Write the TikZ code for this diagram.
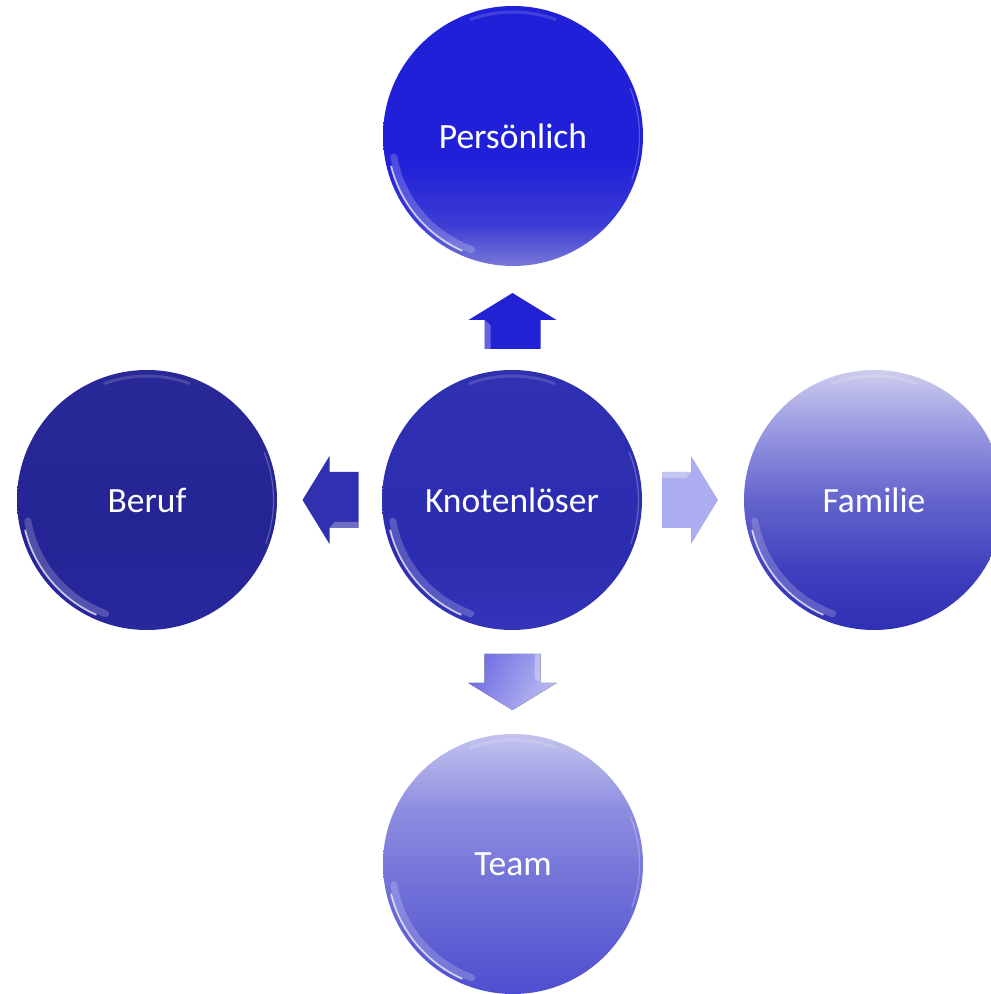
\documentclass[tikz,border=0pt]{standalone}
\usepackage{fontspec}
\setmainfont{Carlito}
\usetikzlibrary{calc}

% colours of the balls, bottom to top
\definecolor{pTopA}{RGB}{120,120,218}
\definecolor{pTopB}{RGB}{60,60,212}
\definecolor{pTopC}{RGB}{32,32,216}
\definecolor{kA}{RGB}{52,52,186}
\definecolor{kB}{RGB}{44,44,176}
\definecolor{kC}{RGB}{48,48,178}
\definecolor{bA}{RGB}{40,40,158}
\definecolor{bB}{RGB}{36,36,148}
\definecolor{bC}{RGB}{40,40,152}
\definecolor{fA}{RGB}{48,48,180}
\definecolor{fB}{RGB}{62,62,190}
\definecolor{fC}{RGB}{100,100,205}
\definecolor{fD}{RGB}{155,155,225}
\definecolor{fE}{RGB}{205,205,238}
\definecolor{tA}{RGB}{78,78,208}
\definecolor{tB}{RGB}{112,112,216}
\definecolor{tC}{RGB}{140,140,224}
\definecolor{tD}{RGB}{195,195,238}
% arrow colours
\definecolor{arUp}{RGB}{34,34,212}
\definecolor{arLeft}{RGB}{48,48,176}
\definecolor{arRight}{RGB}{172,172,240}
\definecolor{arDownA}{RGB}{112,112,226}
\definecolor{arDownB}{RGB}{185,185,242}

\pgfdeclareverticalshading{shPers}{100bp}{color(0bp)=(pTopA); color(25bp)=(pTopA); color(33bp)=(pTopB); color(45bp)=(pTopC); color(100bp)=(pTopC)}
\pgfdeclareverticalshading{shKnot}{100bp}{color(0bp)=(kA); color(25bp)=(kA); color(40bp)=(kB); color(75bp)=(kC); color(100bp)=(kC)}
\pgfdeclareverticalshading{shBeruf}{100bp}{color(0bp)=(bA); color(25bp)=(bA); color(45bp)=(bB); color(75bp)=(bC); color(100bp)=(bC)}
\pgfdeclareverticalshading{shFam}{100bp}{color(0bp)=(fA); color(25bp)=(fA); color(36bp)=(fB); color(50bp)=(fC); color(64bp)=(fD); color(75bp)=(fE); color(100bp)=(fE)}
\pgfdeclareverticalshading{shTeam}{100bp}{color(0bp)=(tA); color(25bp)=(tA); color(45bp)=(tB); color(60bp)=(tC); color(75bp)=(tD); color(100bp)=(tD)}

\tikzset{
  ball/.style={circle, minimum size=260pt, inner sep=0pt, text=white,
    font=\fontsize{35.5}{40}\selectfont},
  glintline/.style={white, line cap=round},
  bevel/.style={white, opacity=0.3, draw=none},
}

% glossy rim highlights on a ball
\newcommand\ballglint[1]{%
  \draw[glintline, opacity=0.2, line width=7pt] ($(#1.center)+(190:121pt)$) arc[start angle=190, end angle=250, radius=121pt];
  \draw[glintline, opacity=0.75, line width=1.8pt] ($(#1.center)+(194:125.5pt)$) arc[start angle=194, end angle=246, radius=125.5pt];
  \draw[glintline, opacity=0.25, line width=1.2pt] ($(#1.center)+(-20:126.5pt)$) arc[start angle=-20, end angle=22, radius=126.5pt];
  \draw[glintline, opacity=0.15, line width=3pt] ($(#1.center)+(70:124pt)$) arc[start angle=70, end angle=110, radius=124pt];
}

% block arrow centred on a coordinate, pointing along the given angle
\newcommand\blockarrow[3]{%
  \fill[#3, shift={(#1)}, rotate=#2]
    (-28,-28) -- (1,-28) -- (1,-44) -- (28,0) -- (1,44) -- (1,28) -- (-28,28) -- cycle;
  \fill[bevel, shift={(#1)}, rotate=#2]
    (-28,28) -- (1,28) -- (-4,22) -- (-28,22) -- cycle;
}

\begin{document}
\begin{tikzpicture}[x=1pt,y=1pt]
  \useasboundingbox (0,0) rectangle (991,994);
  \clip (0,0) rectangle (991,994);

  % balls
  \node[ball, shading=shPers]  (pers) at (513,858) {Persönlich};
  \node[ball, shading=shKnot]  (core) at (512,494) {Knotenlöser};
  \node[ball, shading=shBeruf] (beruf) at (147,494) {Beruf};
  \node[ball, shading=shFam]   (fam) at (874,494) {Familie};
  \node[ball, shading=shTeam]  (team) at (513,130) {Team};

  \ballglint{pers}
  \ballglint{core}
  \ballglint{beruf}
  \ballglint{fam}
  \ballglint{team}

  % block arrows from the centre ball outwards
  \coordinate (aup)    at ($(core)!0.5!(pers)+(0,-3)$);
  \coordinate (aleft)  at ($(core)!0.5!(beruf)+(1,0)$);
  \coordinate (aright) at ($(core)!0.5!(fam)+(-3,0)$);
  \coordinate (adown)  at ($(core)!0.5!(team)$);

  \blockarrow{aup}{90}{arUp}
  \blockarrow{aleft}{180}{arLeft}
  \blockarrow{aright}{0}{arRight}
  \blockarrow{adown}{270}{left color=arDownA, right color=arDownB, shading angle=60}
\end{tikzpicture}
\end{document}
